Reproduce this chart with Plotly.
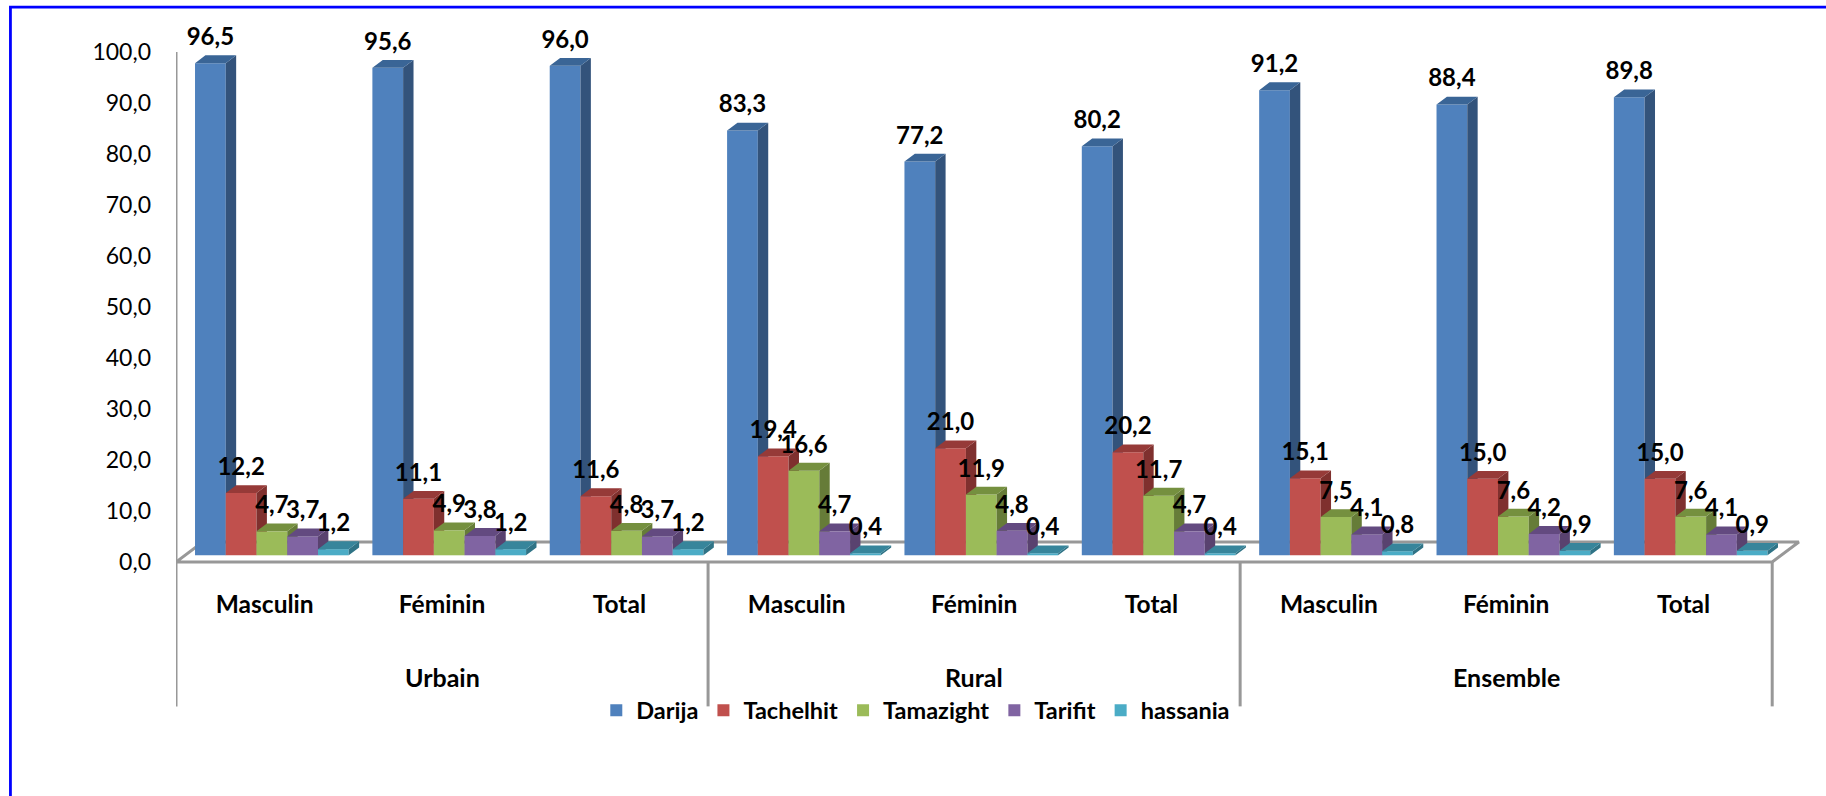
import plotly.graph_objects as go

areas = ["Urbain", "Rural", "Ensemble"]
sexes = ["Masculin", "Féminin", "Total"] * 3
series_names = ["Darija", "Tachelhit", "Tamazight", "Tarifit", "hassania"]
darija = [96.5, 95.6, 96.0, 83.3, 77.2, 80.2, 91.2, 88.4, 89.8]
tachelhit = [12.2, 11.1, 11.6, 19.4, 21.0, 20.2, 15.1, 15.0, 15.0]
tamazight = [4.7, 4.9, 4.8, 16.6, 11.9, 11.7, 7.5, 7.6, 7.6]
tarifit = [3.7, 3.8, 3.7, 4.7, 4.8, 4.7, 4.1, 4.2, 4.1]
hassania = [1.2, 1.2, 1.2, 0.4, 0.4, 0.4, 0.8, 0.9, 0.9]
all_values = [darija, tachelhit, tamazight, tarifit, hassania]

front_colors = ["#4F81BD", "#C0504D", "#9BBB59", "#8064A2", "#4BACC6"]
top_colors = ["#3A6596", "#963A38", "#75903F", "#634A80", "#37859B"]
side_colors = ["#33537B", "#7F302E", "#667C38", "#59426F", "#2F7386"]

FONT = "Lato"
GREY = "#989898"
# canvas geometry, in pixels
L, R = 175.6, 1805.0
Y0_PX, Y100_PX = 561.7, 52.0
PX_PER_GROUP = 177.4
PX_PER_UNIT = (Y0_PX - Y100_PX) / 100
YMIN, YMAX = -30.0, 110.0
T = Y0_PX - YMAX * PX_PER_UNIT
B = Y0_PX - YMIN * PX_PER_UNIT
XMAX = (R - L) / PX_PER_GROUP


def ux(px):
    return px / PX_PER_GROUP


def uy(px):
    return px / PX_PER_UNIT


def paper_x(px):
    return (px - L) / (R - L)


def paper_y(px):
    return (B - px) / (B - T)


bar_w = ux(30.75)
base = uy(6.7)
depth_x, depth_y = ux(10.4), uy(7.8)
shift = ux(7.2)

fig = go.Figure()

# floor, value axis line and separators, on the bottom subplot
floor_dx, floor_dy = ux(26.7), uy(20)
fig.add_trace(go.Scatter(
    x=[0, 9, 9 + floor_dx, floor_dx, 0], y=[0, 0, floor_dy, floor_dy, 0],
    mode="lines", line=dict(color=GREY, width=3), cliponaxis=False,
    showlegend=False, hoverinfo="skip"))
sep_x, sep_y = [0, 0, None], [0, 100, None]
for s in (0, 3, 6, 9):
    sep_x += [s, s, None]
    sep_y += [0, uy(-144.3), None]
fig.add_trace(go.Scatter(
    x=sep_x, y=sep_y, mode="lines", line=dict(color=GREY, width=3),
    cliponaxis=False, showlegend=False, hoverinfo="skip"))

for j, (name, values) in enumerate(zip(series_names, all_values)):
    ax = str(j + 2)
    xs = [i + 0.5 + shift + (j - 2) * bar_w for i in range(len(values))]
    fig.add_trace(go.Bar(
        x=xs, y=values, base=base, width=bar_w, name=name,
        marker=dict(color=front_colors[j], line=dict(width=0)),
        xaxis="x" + ax, yaxis="y" + ax, hovertemplate=name + ": %{y:.1f}<extra></extra>"))
    side_x, side_y, top_x, top_y = [], [], [], []
    for xc, v in zip(xs, values):
        xl, xr, t = xc - bar_w / 2, xc + bar_w / 2, base + v
        side_x += [xr, xr + depth_x, xr + depth_x, xr, xr, None]
        side_y += [base, base + depth_y, t + depth_y, t, base, None]
        top_x += [xl, xr, xr + depth_x, xl + depth_x, xl, None]
        top_y += [t, t, t + depth_y, t + depth_y, t, None]
    for px_, py_, col in ((side_x, side_y, side_colors[j]), (top_x, top_y, top_colors[j])):
        fig.add_trace(go.Scatter(
            x=px_, y=py_, mode="lines", fill="toself", fillcolor=col,
            line=dict(width=0, color=col), showlegend=False, hoverinfo="skip",
            xaxis="x" + ax, yaxis="y" + ax))

# data labels, on the top subplot
last = str(len(series_names) + 1)
for j, values in enumerate(all_values):
    xs = [i + 0.5 + shift + (j - 2) * bar_w for i in range(len(values))]
    fig.add_trace(go.Scatter(
        x=xs, y=[base + v + uy(24) for v in values],
        text=[f"{v:.1f}".replace(".", ",") for v in values],
        mode="text", textposition="middle center", cliponaxis=False,
        textfont=dict(family=FONT, size=24, color="black", weight="bold"),
        showlegend=False, hoverinfo="skip", xaxis="x" + last, yaxis="y" + last))

layout = dict(
    width=1826, height=796, autosize=False,
    margin=dict(l=L, r=1826 - R, t=T, b=796 - B, pad=0),
    paper_bgcolor="white", plot_bgcolor="white", separators=", ", barmode="overlay",
    font=dict(family=FONT, color="black"),
    xaxis=dict(range=[0, XMAX], tickvals=[i + 0.5 for i in range(9)], ticktext=sexes,
               anchor="free", position=(0 - YMIN) / (YMAX - YMIN),
               showgrid=False, zeroline=False, showline=False, ticks="",
               ticklabelstandoff=25, tickangle=0,
               tickfont=dict(family=FONT, size=24.5, weight="bold", color="black")),
    yaxis=dict(range=[YMIN, YMAX], tickvals=list(range(0, 101, 10)), tickformat=".1f",
               showgrid=False, zeroline=False, showline=False,
               ticks="", ticklabelstandoff=24,
               tickfont=dict(family=FONT, size=23, color="black")),
    legend=dict(orientation="h", x=paper_x(596), y=paper_y(710), xanchor="left", yanchor="middle",
                bgcolor="rgba(0,0,0,0)", font=dict(family=FONT, size=23.5, weight="bold", color="black"),
                traceorder="normal"),
    annotations=[dict(text=a, x=1.5 + 3 * i, y=uy(-115), xref="x", yref="y", showarrow=False,
                      xanchor="center", yanchor="middle",
                      font=dict(family=FONT, size=25, weight="bold", color="black"))
                 for i, a in enumerate(areas)],
    shapes=[
        dict(type="line", xref="paper", yref="paper", x0=paper_x(8.6), x1=paper_x(1826),
             y0=paper_y(7.2), y1=paper_y(7.2), line=dict(color="#0000FF", width=2.8)),
        dict(type="line", xref="paper", yref="paper", x0=paper_x(10), x1=paper_x(10),
             y0=paper_y(7.2), y1=paper_y(796), line=dict(color="#0000FF", width=2.8)),
    ],
)
for k in range(2, len(series_names) + 2):
    layout[f"xaxis{k}"] = dict(range=[0, XMAX], overlaying="x", visible=False, anchor=f"y{k}")
    layout[f"yaxis{k}"] = dict(range=[YMIN, YMAX], overlaying="y", visible=False, anchor=f"x{k}")
fig.update_layout(**layout)

fig.write_html("out.html", config=dict(displayModeBar=False), post_script=
               "document.body.style.margin='0';document.body.style.overflow='hidden';")
